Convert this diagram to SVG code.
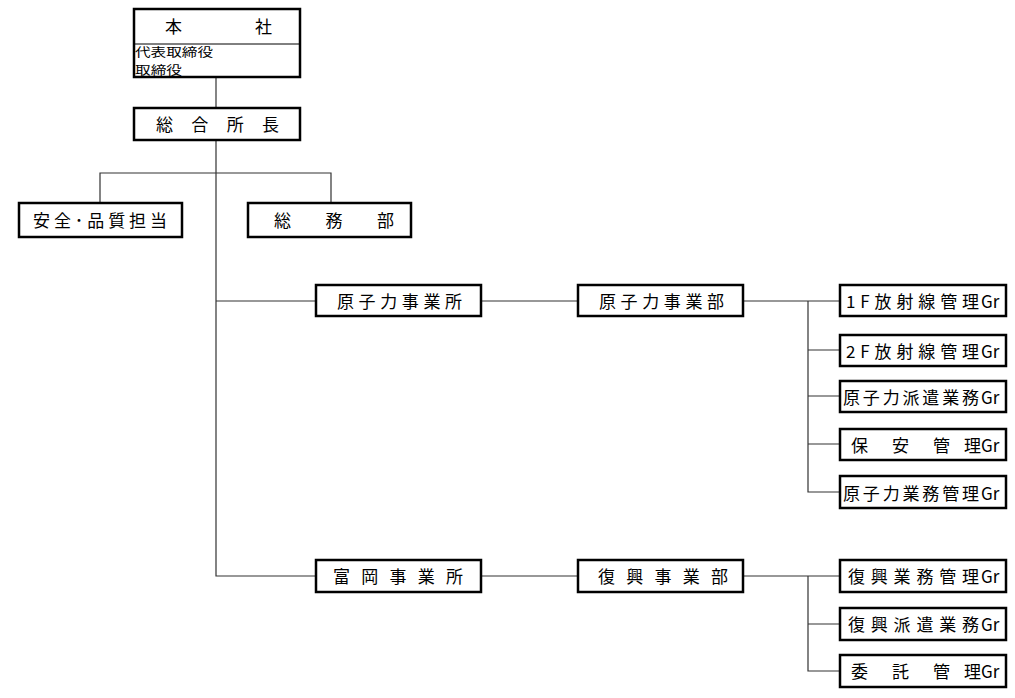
<svg xmlns="http://www.w3.org/2000/svg" width="1015" height="698" viewBox="0 0 1015 698">
<style>
.box{fill:#fff;stroke:#000;stroke-width:2.5}
.ln{fill:none;stroke:#333;stroke-width:1.2}
text{font-family:"Noto Sans CJK JP","Noto Sans CJK SC",sans-serif;font-size:17px;fill:#000}
.sm{font-size:12px}
</style>
<rect width="1015" height="698" fill="#fff"/>
<g id="connectors">
<path class="ln" d="M216,77 V108"/>
<path class="ln" d="M216,140 V576 H316"/>
<path class="ln" d="M100,203 V173 H331 V203"/>
<path class="ln" d="M216,301 H316"/>
<path class="ln" d="M481,301 H578"/>
<path class="ln" d="M743,301 H840"/>
<path class="ln" d="M808,301 V492 H840"/>
<path class="ln" d="M808,350 H840 M808,396 H840 M808,444 H840"/>
<path class="ln" d="M481,576 H578"/>
<path class="ln" d="M743,576 H840"/>
<path class="ln" d="M808,576 V671 H840 M808,624 H840"/>
</g>
<g id="honsha">
<rect class="box" x="134" y="9" width="166" height="68"/>
<line x1="134" y1="44" x2="300" y2="44" stroke="#000" stroke-width="1"/>
<text x="165" y="33">本</text>
<text x="255" y="33">社</text>
<text class="sm" x="135" y="57" textLength="78" lengthAdjust="spacingAndGlyphs">代表取締役</text>
<text class="sm" x="135" y="74.5" textLength="47" lengthAdjust="spacingAndGlyphs">取締役</text>
</g>
<g id="sogo">
<rect class="box" x="134" y="108" width="166" height="32"/>
<text x="156" y="131" textLength="123" lengthAdjust="spacing">総合所長</text>
</g>
<g id="anzen">
<rect class="box" x="19" y="203" width="163" height="34"/>
<text x="33" y="227" textLength="134" lengthAdjust="spacing">安全･品質担当</text>
</g>
<g id="somu">
<rect class="box" x="248" y="203" width="163" height="34"/>
<text x="274" y="227" textLength="120" lengthAdjust="spacing">総務部</text>
</g>
<g id="genshiryoku-jigyosho">
<rect class="box" x="316" y="285" width="165" height="31"/>
<text x="337" y="308" textLength="125" lengthAdjust="spacing">原子力事業所</text>
</g>
<g id="genshiryoku-jigyobu">
<rect class="box" x="578" y="285" width="165" height="31"/>
<text x="599" y="308" textLength="125" lengthAdjust="spacing">原子力事業部</text>
</g>
<g id="gr-1f">
<rect class="box" x="840" y="285" width="166" height="31"/>
<text y="308"><tspan x="846" textLength="133" lengthAdjust="spacing">1F放射線管理</tspan><tspan x="981">Gr</tspan></text>
</g>
<g id="gr-2f">
<rect class="box" x="840" y="335" width="166" height="31"/>
<text y="358"><tspan x="846" textLength="133" lengthAdjust="spacing">2F放射線管理</tspan><tspan x="981">Gr</tspan></text>
</g>
<g id="gr-haken">
<rect class="box" x="840" y="381" width="166" height="31"/>
<text y="404"><tspan x="843" textLength="136" lengthAdjust="spacing">原子力派遣業務</tspan><tspan x="981">Gr</tspan></text>
</g>
<g id="gr-hoan">
<rect class="box" x="840" y="429" width="166" height="31"/>
<text y="452"><tspan x="851">保</tspan><tspan x="892">安</tspan><tspan x="933">管</tspan><tspan x="964">理</tspan><tspan x="981">Gr</tspan></text>
</g>
<g id="gr-gyomu">
<rect class="box" x="840" y="476" width="166" height="32"/>
<text y="500"><tspan x="843" textLength="136" lengthAdjust="spacing">原子力業務管理</tspan><tspan x="981">Gr</tspan></text>
</g>
<g id="tomioka-jigyosho">
<rect class="box" x="316" y="560" width="165" height="32"/>
<text x="333" y="583" textLength="130" lengthAdjust="spacing">富岡事業所</text>
</g>
<g id="fukko-jigyobu">
<rect class="box" x="578" y="560" width="165" height="32"/>
<text x="598" y="583" textLength="130" lengthAdjust="spacing">復興事業部</text>
</g>
<g id="gr-fukko-gyomu">
<rect class="box" x="840" y="560" width="166" height="32"/>
<text y="583"><tspan x="848" textLength="131" lengthAdjust="spacing">復興業務管理</tspan><tspan x="981">Gr</tspan></text>
</g>
<g id="gr-fukko-haken">
<rect class="box" x="840" y="608" width="166" height="32"/>
<text y="631"><tspan x="848" textLength="131" lengthAdjust="spacing">復興派遣業務</tspan><tspan x="981">Gr</tspan></text>
</g>
<g id="gr-itaku">
<rect class="box" x="840" y="655" width="166" height="32"/>
<text y="678"><tspan x="851">委</tspan><tspan x="892">託</tspan><tspan x="933">管</tspan><tspan x="964">理</tspan><tspan x="981">Gr</tspan></text>
</g>
</svg>
